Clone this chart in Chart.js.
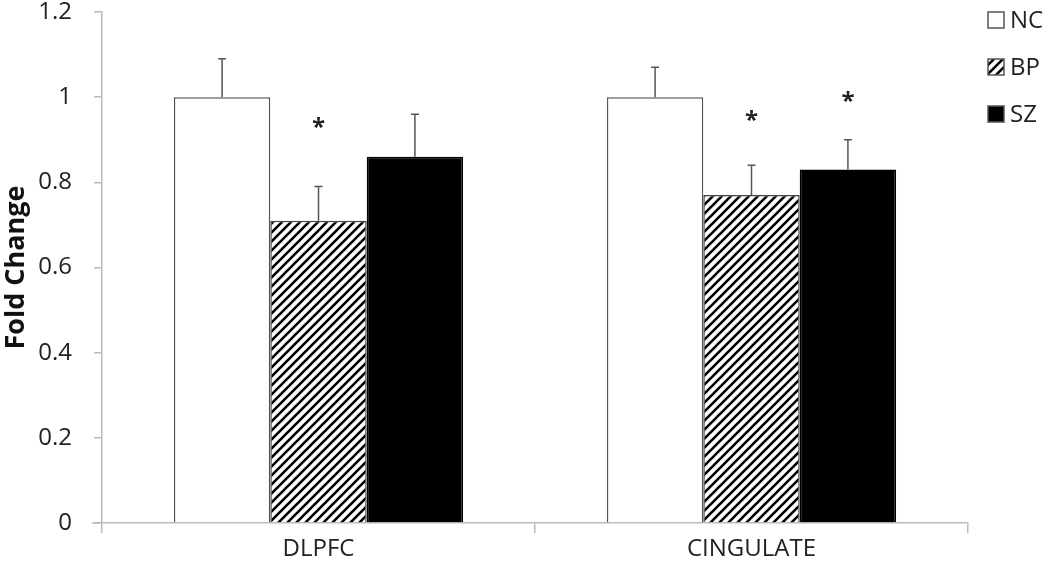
<!DOCTYPE html>
<html>
<head>
<meta charset="utf-8">
<script src="https://cdn.jsdelivr.net/npm/chart.js@4"></script>
<style>
  html, body { margin: 0; padding: 0; background: #fff; }
  #wrap { width: 1050px; height: 576px; }
</style>
</head>
<body>
<div id="wrap"><canvas id="myChart" width="1050" height="576"></canvas></div>
<script>
// data
var regions = ['DLPFC', 'CINGULATE']
var groups = ['NC', 'BP', 'SZ']
var ncMean = [1.0, 1.0]
var bpMean = [0.71, 0.77]
var szMean = [0.86, 0.83]
var ncErr = [0.09, 0.07]
var bpErr = [0.08, 0.07]
var szErr = [0.10, 0.07]
// where the asterisks sit (fold change units), null = no asterisk
var ncStar = [null, null]
var bpStar = [0.94, 0.955]
var szStar = [null, 1.0]
var yTicks = [0, 0.2, 0.4, 0.6, 0.8, 1, 1.2]

var fontName = "'Open Sans', 'Noto Sans', sans-serif"

// diagonal hatch for BP
function hatch() {
    var c = document.createElement('canvas')
    c.width = 9
    c.height = 9
    var g = c.getContext('2d')
    g.fillStyle = '#fff'
    g.fillRect(0, 0, 9, 9)
    g.strokeStyle = '#000'
    g.lineWidth = 2.6
    g.beginPath()
    g.moveTo(-2, 11); g.lineTo(11, -2)
    g.moveTo(-2, 2); g.lineTo(2, -2)
    g.moveTo(7, 11); g.lineTo(11, 7)
    g.stroke()
    return g.createPattern(c, 'repeat')
}

var errs = [ncErr, bpErr, szErr]
var stars = [ncStar, bpStar, szStar]

// error bars (upper only), asterisks and the legend on the right
var extrasPlugin = {
    id: 'extras',
    afterDatasetsDraw(chart) {
        var ctx = chart.ctx
        var y = chart.scales.y
        ctx.save()
        chart.data.datasets.forEach(function (ds, di) {
            var meta = chart.getDatasetMeta(di)
            meta.data.forEach(function (bar, i) {
                var top = y.getPixelForValue(ds.data[i])
                var et = y.getPixelForValue(ds.data[i] + errs[di][i])
                ctx.strokeStyle = '#555'
                ctx.lineWidth = 1.5
                ctx.beginPath()
                ctx.moveTo(bar.x, top)
                ctx.lineTo(bar.x, et)
                ctx.moveTo(bar.x - 4, et)
                ctx.lineTo(bar.x + 4, et)
                ctx.stroke()
                if (stars[di][i] != null) {
                    ctx.fillStyle = '#222'
                    ctx.font = 'bold 24px ' + fontName
                    ctx.textAlign = 'center'
                    ctx.textBaseline = 'middle'
                    ctx.fillText('*', bar.x, y.getPixelForValue(stars[di][i]) + 5)
                }
            })
        })
        ctx.restore()
    },
    afterDraw(chart) {
        var ctx = chart.ctx
        var area = chart.chartArea
        ctx.save()
        // x axis line runs a little past the y axis, as in the original
        ctx.strokeStyle = '#bbb'
        ctx.lineWidth = 1.5
        ctx.beginPath()
        ctx.moveTo(area.left - 10, area.bottom)
        ctx.lineTo(area.left, area.bottom)
        ctx.stroke()
        chart.data.datasets.forEach(function (ds, di) {
            var bx = area.right + 20
            var cy = area.top + 8 + di * 47
            ctx.fillStyle = ds.backgroundColor
            ctx.fillRect(bx, cy - 8, 16, 16)
            ctx.strokeStyle = '#555'
            ctx.lineWidth = 1.5
            ctx.strokeRect(bx, cy - 8, 16, 16)
            ctx.fillStyle = '#222'
            ctx.font = '24px ' + fontName
            ctx.textAlign = 'left'
            ctx.textBaseline = 'middle'
            ctx.fillText(ds.label, bx + 22, cy + 1)
        })
        ctx.restore()
    }
}

var ctx = document.getElementById('myChart')
var myChart = new Chart(ctx, {
    type: 'bar',
    data: {
        labels: regions,
        datasets: [{
            label: groups[0],
            data: ncMean,
            backgroundColor: '#fff',
            borderColor: '#555',
            borderWidth: 1.5
        }, {
            label: groups[1],
            data: bpMean,
            backgroundColor: hatch(),
            borderColor: '#444',
            borderWidth: 1.5
        }, {
            label: groups[2],
            data: szMean,
            backgroundColor: '#000',
            borderColor: '#000',
            borderWidth: 1.5
        }]
    },
    options: {
        responsive: false,
        animation: false,
        barPercentage: 1,
        categoryPercentage: 0.668,
        layout: { padding: { top: 12, left: 0, right: 82, bottom: 0 } },
        plugins: {
            legend: { display: false },
            tooltip: { enabled: false }
        },
        scales: {
            x: {
                grid: {
                    display: true,
                    offset: true,
                    drawOnChartArea: false,
                    tickLength: 10,
                    color: '#bbb',
                    lineWidth: 1.5
                },
                border: { color: '#bbb', width: 1.5 },
                ticks: {
                    color: '#222',
                    padding: 2,
                    font: { family: fontName, size: 24 }
                },
                afterFit(s) {
                    s.height = 53
                    s.paddingLeft = 0
                    s.paddingRight = 0
                }
            },
            y: {
                min: 0,
                max: 1.2,
                afterBuildTicks(s) { s.ticks = yTicks.map(function (v) { return { value: v } }) },
                grid: {
                    display: true,
                    drawOnChartArea: false,
                    tickLength: 8,
                    color: '#bbb',
                    lineWidth: 1.5
                },
                border: { color: '#bbb', width: 1.5 },
                ticks: {
                    color: '#222',
                    padding: 22,
                    font: { family: fontName, size: 24 },
                    callback: function (v) { return String(Math.round(v * 10) / 10) }
                },
                title: {
                    display: true,
                    text: 'Fold Change',
                    color: '#111',
                    padding: { top: 0, bottom: 0 },
                    font: { family: fontName, size: 27, weight: 'bold' }
                },
                afterFit(s) {
                    s.width = 102
                    s.paddingTop = 0
                    s.paddingBottom = 0
                }
            }
        }
    },
    plugins: [extrasPlugin]
});
</script>
</body>
</html>
